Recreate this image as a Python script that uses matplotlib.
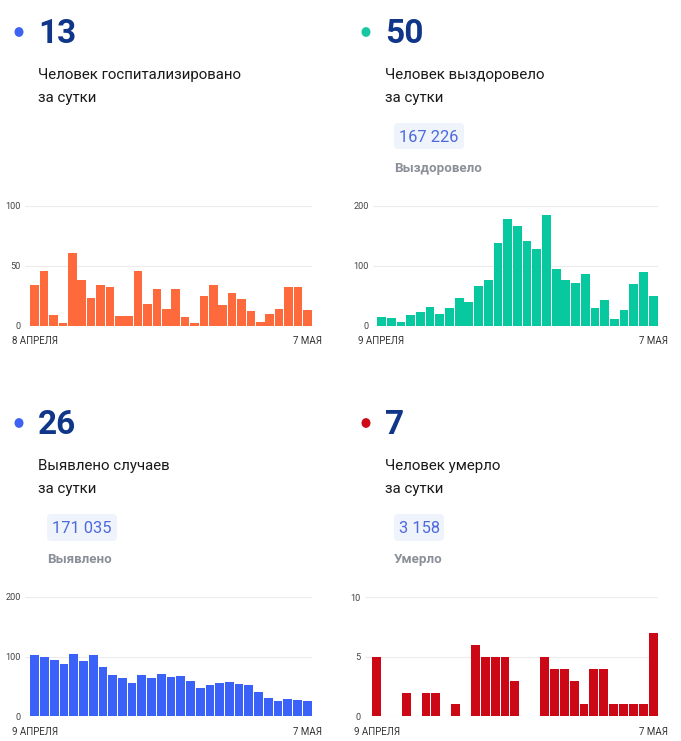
import matplotlib
matplotlib.use("Agg")
import matplotlib.pyplot as plt
from matplotlib.patches import FancyBboxPatch, Circle

plt.rcParams['font.family'] = ['Roboto', 'DejaVu Sans']

# ---------------- data ----------------
hosp_values = [34, 46, 9, 2, 61, 38, 23, 34, 32, 8, 8, 46, 18, 31, 14, 31, 7, 2,
               25, 34, 17, 27, 22, 12, 3, 10, 14, 32, 32, 13]
recov_values = [15, 13, 7, 18, 23, 31, 20, 29, 46, 40, 66, 77, 138, 178, 167, 141,
                128, 184, 94, 76, 72, 86, 29, 43, 12, 26, 70, 89, 50]
cases_values = [103, 99, 94, 88, 104, 93, 102, 83, 69, 64, 56, 69, 65, 71, 66, 68,
                59, 48, 52, 55, 57, 54, 52, 41, 30, 25, 29, 27, 26]
death_values = [5, 0, 0, 2, 0, 2, 2, 0, 1, 0, 6, 5, 5, 5, 3, 0, 0, 5, 4, 4, 3, 1,
                4, 4, 1, 1, 1, 1, 7]

hosp_dates = ["8 АПРЕЛЯ", "7 МАЯ"]
other_dates = ["9 АПРЕЛЯ", "7 МАЯ"]

hosp_ticks = [0, 50, 100]
recov_ticks = [0, 100, 200]
cases_ticks = [0, 100, 200]
death_ticks = [0, 5, 10]

big_numbers = ["13", "50", "26", "7"]
line1 = ["Человек госпитализировано", "Человек выздоровело", "Выявлено случаев", "Человек умерло"]
line2 = ["за сутки", "за сутки", "за сутки", "за сутки"]
totals = [None, "167 226", "171 035", "3 158"]
total_labels = [None, "Выздоровело", "Выявлено", "Умерло"]

# ---------------- style ----------------
W, H = 681, 741
fig = plt.figure(figsize=(W / 100, H / 100), dpi=100)
fig.patch.set_facecolor("white")

def fx(x):
    return x / W

def fy(y):
    return 1 - y / H

NAVY = "#0f3688"
BOXBLUE = "#4d69dc"
BOXBG = "#eef3fc"
GRAYLBL = "#8b8f98"

dot_colors = ["#3e63f2", "#17c7a2", "#3e63f2", "#cf0a19"]
bar_colors = ["#ff6a3d", "#08c8a0", "#3a62f8", "#cc0716"]

# header anchors: (x of text, baseline of big number, baseline of first line, dot x, dot y)
headers = [
    (38, 43, 79, 19, 32),
    (385, 43, 79, 366, 32),
    (38, 434, 470, 19, 423),
    (385, 434, 470, 366, 423),
]
boxes = [None, (394, 123, 70, 26), (47, 514, 70, 27), (394, 514, 50, 27)]

for i, (tx, nb, l1, dx, dy) in enumerate(headers):
    fig.patches.append(Circle((fx(dx), fy(dy)), radius=4.5 / W, transform=fig.transFigure,
                              facecolor=dot_colors[i], edgecolor="none"))
    fig.text(fx(tx), fy(nb), big_numbers[i], fontsize=24, fontweight="bold",
             color=NAVY, va="baseline", ha="left")
    fig.text(fx(tx), fy(l1), line1[i], fontsize=10.8, color="#1a1a1a",
             va="baseline", ha="left")
    fig.text(fx(tx), fy(l1 + 23), line2[i], fontsize=10.8, color="#1a1a1a",
             va="baseline", ha="left")
    if boxes[i] is not None:
        bx, by, bw, bh = boxes[i]
        fig.patches.append(FancyBboxPatch((fx(bx), fy(by + bh)), bw / W, bh / H,
                                          boxstyle="round,pad=0,rounding_size=0.006",
                                          transform=fig.transFigure,
                                          facecolor=BOXBG, edgecolor="none"))
        fig.text(fx(bx + 5), fy(by + 19), totals[i], fontsize=11.8, color=BOXBLUE,
                 va="baseline", ha="left")
        fig.text(fx(bx), fy(by + 49), total_labels[i], fontsize=9.6, fontweight="bold",
                 color=GRAYLBL, va="baseline", ha="left")

# chart areas: (grid start x, bars start x, bars end x, top y, bottom y)
charts = [
    (hosp_values, hosp_ticks, hosp_dates, (25, 30, 312, 205.7, 325.7)),
    (recov_values, recov_ticks, other_dates, (373, 376.7, 658, 205.7, 325.7)),
    (cases_values, cases_ticks, other_dates, (25, 30, 312, 597, 716.3)),
    (death_values, death_ticks, other_dates, (365, 371.7, 658, 597.3, 716.3)),
]

for i, (vals, ticks, dates, (gx, bx, ex, ty, by)) in enumerate(charts):
    n = len(vals)
    ax = fig.add_axes([fx(gx), fy(by), (ex - gx) / W, (by - ty) / H])
    pitch = (ex - bx) / n
    ax.set_xlim(-0.5 - (bx - gx) / pitch, n - 0.5)
    ax.set_ylim(ticks[0], ticks[-1])
    ax.set_yticks(ticks)
    ax.set_yticklabels([str(t) for t in ticks])
    ax.yaxis.grid(True, color="#ececec", linewidth=0.8)
    ax.set_axisbelow(True)
    ax.bar(range(n), vals, width=0.9, color=bar_colors[i], edgecolor="none", zorder=2)
    ax.set_xticks([0, n - 1])
    ax.set_xticklabels(dates)
    for s in ax.spines.values():
        s.set_visible(False)
    ax.tick_params(axis="y", length=0, pad=3, labelsize=6.6, labelcolor="#444444")
    ax.tick_params(axis="x", length=0, pad=7.5, labelsize=7, labelcolor="#333333")
    ax.patch.set_alpha(0)

fig.savefig("out.png", dpi=100, facecolor="white")
